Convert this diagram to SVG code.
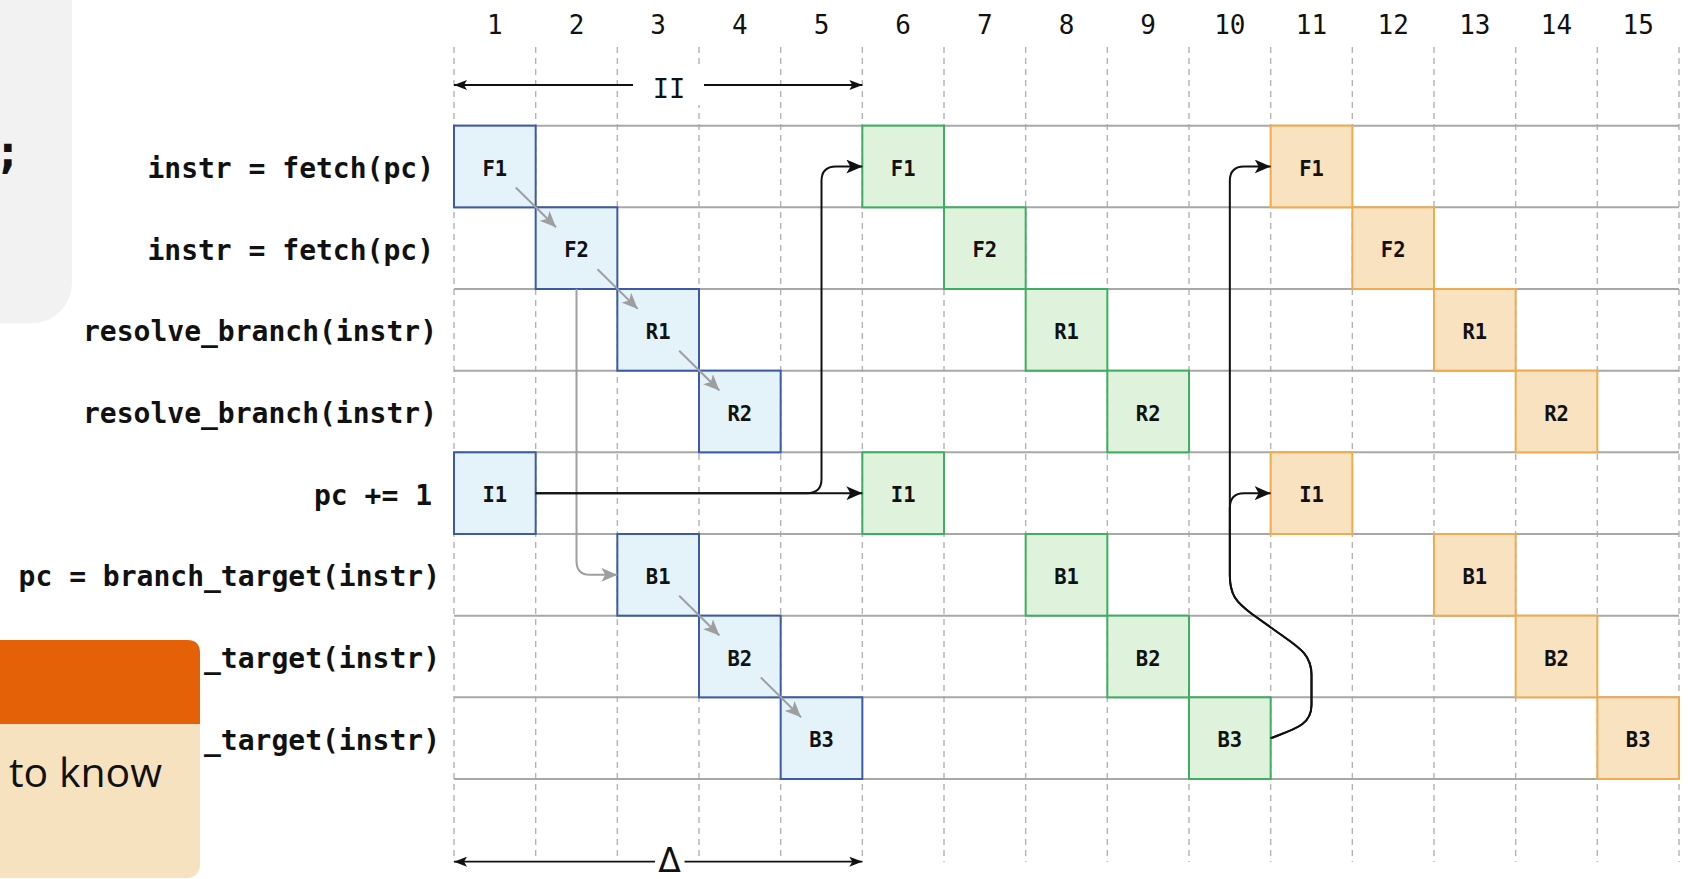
<svg xmlns="http://www.w3.org/2000/svg" width="1691" height="879" viewBox="0 0 1691 879">
<defs>
<style>
.grid{stroke:#b3b3b3;stroke-width:1.4;stroke-dasharray:6 5;fill:none}
.hline{stroke:#a8a8a8;stroke-width:2;fill:none}
.colnum{font-family:"DejaVu Sans Mono","Liberation Mono",monospace;font-size:26px;fill:#111;text-anchor:middle}
.rowlab{font-family:"DejaVu Sans Mono","Liberation Mono",monospace;font-weight:bold;font-size:28px;fill:#111;text-anchor:end}
.cell text{font-family:"DejaVu Sans Mono","Liberation Mono",monospace;font-weight:bold;font-size:20.5px;fill:#111;text-anchor:middle}
.blue rect{fill:#e4f3fa;stroke:#3d5aa8;stroke-width:2}
.green rect{fill:#dff3dc;stroke:#3dae62;stroke-width:2}
.orange rect{fill:#f8e2c0;stroke:#f0ab4f;stroke-width:2}
.garr{stroke:#9e9e9e;stroke-width:2;fill:none;marker-end:url(#gh)}
.barr{stroke:#111;stroke-width:2;fill:none;marker-end:url(#bh)}
.dim{stroke:#111;stroke-width:1.8;fill:none;marker-start:url(#dh);marker-end:url(#dh)}
</style>
<marker id="gh" markerUnits="userSpaceOnUse" markerWidth="16" markerHeight="14" refX="16" refY="7" orient="auto"><path d="M0,0 L16,7 L0,14 L4,7 z" fill="#9e9e9e"/></marker>
<marker id="bh" markerUnits="userSpaceOnUse" markerWidth="16" markerHeight="14" refX="16" refY="7" orient="auto"><path d="M0,0 L16,7 L0,14 L4,7 z" fill="#111"/></marker>
<marker id="dh" markerUnits="userSpaceOnUse" markerWidth="13" markerHeight="10" refX="13" refY="5" orient="auto-start-reverse"><path d="M0,0 L13,5 L0,10 L3,5 z" fill="#111"/></marker>
</defs>
<rect width="1691" height="879" fill="#ffffff"/>

<g id="grid">
<path class="grid" d="M454 47V862 M535.67 47V862 M617.33 47V862 M699 47V862 M780.67 47V862 M862.33 47V862 M944 47V862 M1025.67 47V862 M1107.33 47V862 M1189 47V862 M1270.67 47V862 M1352.33 47V862 M1434 47V862 M1515.67 47V862 M1597.33 47V862 M1679 47V862"/>
<path class="hline" d="M454 125.67H1679 M454 207.33H1679 M454 289H1679 M454 370.67H1679 M454 452.33H1679 M454 534H1679 M454 615.67H1679 M454 697.33H1679 M454 779H1679"/>
</g>

<g id="column-numbers">
<text class="colnum" x="494.83" y="34">1</text>
<text class="colnum" x="576.5" y="34">2</text>
<text class="colnum" x="658.17" y="34">3</text>
<text class="colnum" x="739.83" y="34">4</text>
<text class="colnum" x="821.5" y="34">5</text>
<text class="colnum" x="903.17" y="34">6</text>
<text class="colnum" x="984.83" y="34">7</text>
<text class="colnum" x="1066.5" y="34">8</text>
<text class="colnum" x="1148.17" y="34">9</text>
<text class="colnum" x="1229.83" y="34">10</text>
<text class="colnum" x="1311.5" y="34">11</text>
<text class="colnum" x="1393.17" y="34">12</text>
<text class="colnum" x="1474.83" y="34">13</text>
<text class="colnum" x="1556.5" y="34">14</text>
<text class="colnum" x="1638.17" y="34">15</text>
</g>

<g id="row-labels">
<text class="rowlab" x="434" y="178">instr = fetch(pc)</text>
<text class="rowlab" x="434" y="259.7">instr = fetch(pc)</text>
<text class="rowlab" x="437" y="341.3">resolve_branch(instr)</text>
<text class="rowlab" x="437" y="423">resolve_branch(instr)</text>
<text class="rowlab" x="432" y="504.7">pc += 1</text>
<text class="rowlab" x="440" y="586.3">pc = branch_target(instr)</text>
<text class="rowlab" x="440" y="668">_target(instr)</text>
<text class="rowlab" x="440" y="749.7">_target(instr)</text>
</g>

<g id="iteration-1" class="blue">
<g id="b-F1" class="cell"><rect x="454" y="125.67" width="81.67" height="81.67"/><text x="494.83" y="175.7">F1</text></g>
<g id="b-F2" class="cell"><rect x="535.67" y="207.33" width="81.67" height="81.67"/><text x="576.5" y="257.4">F2</text></g>
<g id="b-R1" class="cell"><rect x="617.33" y="289" width="81.67" height="81.67"/><text x="658.17" y="339">R1</text></g>
<g id="b-R2" class="cell"><rect x="699" y="370.67" width="81.67" height="81.67"/><text x="739.83" y="420.7">R2</text></g>
<g id="b-I1" class="cell"><rect x="454" y="452.33" width="81.67" height="81.67"/><text x="494.83" y="502.4">I1</text></g>
<g id="b-B1" class="cell"><rect x="617.33" y="534" width="81.67" height="81.67"/><text x="658.17" y="584">B1</text></g>
<g id="b-B2" class="cell"><rect x="699" y="615.67" width="81.67" height="81.67"/><text x="739.83" y="665.7">B2</text></g>
<g id="b-B3" class="cell"><rect x="780.67" y="697.33" width="81.67" height="81.67"/><text x="821.5" y="747.4">B3</text></g>
</g>

<g id="iteration-2" class="green">
<g id="g-F1" class="cell"><rect x="862.33" y="125.67" width="81.67" height="81.67"/><text x="903.17" y="175.7">F1</text></g>
<g id="g-F2" class="cell"><rect x="944" y="207.33" width="81.67" height="81.67"/><text x="984.83" y="257.4">F2</text></g>
<g id="g-R1" class="cell"><rect x="1025.67" y="289" width="81.67" height="81.67"/><text x="1066.5" y="339">R1</text></g>
<g id="g-R2" class="cell"><rect x="1107.33" y="370.67" width="81.67" height="81.67"/><text x="1148.17" y="420.7">R2</text></g>
<g id="g-I1" class="cell"><rect x="862.33" y="452.33" width="81.67" height="81.67"/><text x="903.17" y="502.4">I1</text></g>
<g id="g-B1" class="cell"><rect x="1025.67" y="534" width="81.67" height="81.67"/><text x="1066.5" y="584">B1</text></g>
<g id="g-B2" class="cell"><rect x="1107.33" y="615.67" width="81.67" height="81.67"/><text x="1148.17" y="665.7">B2</text></g>
<g id="g-B3" class="cell"><rect x="1189" y="697.33" width="81.67" height="81.67"/><text x="1229.83" y="747.4">B3</text></g>
</g>

<g id="iteration-3" class="orange">
<g id="o-F1" class="cell"><rect x="1270.67" y="125.67" width="81.67" height="81.67"/><text x="1311.5" y="175.7">F1</text></g>
<g id="o-F2" class="cell"><rect x="1352.33" y="207.33" width="81.67" height="81.67"/><text x="1393.17" y="257.4">F2</text></g>
<g id="o-R1" class="cell"><rect x="1434" y="289" width="81.67" height="81.67"/><text x="1474.83" y="339">R1</text></g>
<g id="o-R2" class="cell"><rect x="1515.67" y="370.67" width="81.67" height="81.67"/><text x="1556.5" y="420.7">R2</text></g>
<g id="o-I1" class="cell"><rect x="1270.67" y="452.33" width="81.67" height="81.67"/><text x="1311.5" y="502.4">I1</text></g>
<g id="o-B1" class="cell"><rect x="1434" y="534" width="81.67" height="81.67"/><text x="1474.83" y="584">B1</text></g>
<g id="o-B2" class="cell"><rect x="1515.67" y="615.67" width="81.67" height="81.67"/><text x="1556.5" y="665.7">B2</text></g>
<g id="o-B3" class="cell"><rect x="1597.33" y="697.33" width="81.67" height="81.67"/><text x="1638.17" y="747.4">B3</text></g>
</g>

<g id="connectors">
<path class="garr" d="M515.8 187.5L556 227.2"/>
<path class="garr" d="M597.5 269.2L637.7 308.9"/>
<path class="garr" d="M679.2 350.8L719.4 390.5"/>
<path class="garr" d="M760.8 677.5L801 717.2"/>
<path class="garr" d="M679.2 595.8L719.4 635.5"/>
<path class="garr" d="M576.5 289V561Q576.5 574.83 590 574.83H617.33"/>
<path class="barr" d="M535.67 493.17H862.33"/>
<path class="barr" d="M535.67 493.17H807Q821.5 493.17 821.5 479V181Q821.5 166.5 836 166.5H862.33"/>
<path class="barr" d="M1270.67 738.17C1295 729 1311.5 725 1311.5 705V675C1311.5 655 1300 648 1280 634L1252 614C1236 602 1229.83 595 1229.83 575V508Q1229.83 493.17 1244 493.17H1270.67"/>
<path class="barr" d="M1270.67 738.17C1295 729 1311.5 725 1311.5 705V675C1311.5 655 1300 648 1280 634L1252 614C1236 602 1229.83 595 1229.83 575V181Q1229.83 166.5 1244 166.5H1270.67"/>
</g>

<g id="ii-dimension">
<path class="dim" d="M454 85H862.33"/>
<rect x="633" y="67" width="71" height="38" fill="#ffffff"/>
<text x="669" y="98" font-family="DejaVu Sans Mono, Liberation Mono, monospace" font-size="27px" fill="#111" text-anchor="middle">II</text>
</g>

<g id="delta-dimension">
<path class="dim" d="M454 861.7H862.33"/>
<rect x="655" y="812" width="29.5" height="67" fill="#ffffff"/>
<text x="669.5" y="872" font-family="DejaVu Sans, Liberation Sans, sans-serif" font-size="33px" fill="#111" text-anchor="middle">Δ</text>
</g>

<g id="code-panel">
<rect x="-60" y="-60" width="132" height="383.3" rx="40" fill="#f2f2f2"/>
<text x="-6" y="168" font-family="DejaVu Sans Mono, Liberation Mono, monospace" font-weight="bold" font-size="46px" fill="#111">;</text>
</g>

<g id="note-card">
<rect x="-20" y="640" width="220" height="238" rx="13" fill="#f7e2c0"/>
<path d="M-20 640H187Q200 640 200 653V724H-20Z" fill="#e46107"/>
<text x="9" y="787" font-family="Open Sans, Liberation Sans, sans-serif" font-size="41px" fill="#111">to know</text>
</g>
</svg>
